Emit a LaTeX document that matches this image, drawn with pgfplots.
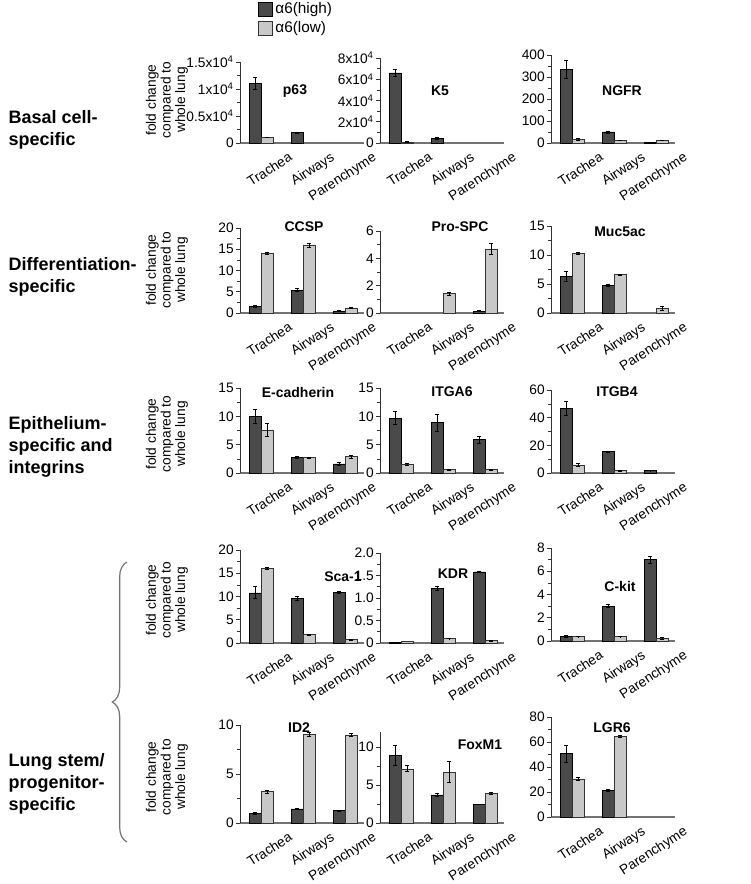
\documentclass[border=0pt]{standalone}
\usepackage{pgfplots}
\pgfplotsset{compat=1.18}
\usepackage{fontspec}
\setmainfont{Liberation Sans}
\setsansfont{Liberation Sans}
\usetikzlibrary{decorations.pathreplacing}
\definecolor{dk}{RGB}{74,74,74}
\definecolor{lt}{RGB}{200,200,200}
\newcommand\tlfont{\fontsize{10.3}{11}\selectfont}
\newcommand\ttfont{\fontsize{10.5}{12}\selectfont\bfseries}
\newcommand\ylfont{\fontsize{10.3}{11}\selectfont}
\newcommand\rowfont{\fontsize{13.5}{16.5}\selectfont\bfseries}
\pgfplotsset{
  panel/.style={
    scale only axis, anchor=south west,
    width=93pt,
    xmin=-0.5, xmax=2.45, ymin=0,
    axis x line=bottom, axis y line=left,
    x axis line style={-, draw=black!55, line width=0.9pt},
    y axis line style={-, draw=black!80, line width=0.6pt},
    xtick={0,1,2}, xticklabels={Trachea,Airways,Parenchyme},
    x tick label style={xshift=20pt, yshift=-3pt, rotate=33, anchor=north east, font=\tlfont, inner sep=0pt},
    major x tick style={draw=none},
    tick align=outside,
    y tick label style={font=\tlfont, inner sep=1.5pt},
    ybar=0pt, bar width=9pt,
    minor y tick num=1,
    y tick style={black!80, line width=0.5pt},
    major tick length=3pt, minor tick length=2pt,
    enlargelimits=false, clip=false,
    scaled y ticks=false,
    /pgf/number format/assume math mode=true,
  },
  hi/.style={fill=dk, draw=black, line width=0.4pt,
    error bars/y dir=both, error bars/y explicit,
    error bars/error bar style={black, line width=0.6pt},
    error bars/error mark options={rotate=90, mark size=1.2pt, black, line width=0.5pt}},
  lo/.style={fill=lt, draw=black!80, line width=0.4pt,
    error bars/y dir=both, error bars/y explicit,
    error bars/error bar style={black, line width=0.6pt},
    error bars/error mark options={rotate=90, mark size=1.2pt, black, line width=0.5pt}},
}
\begin{document}
\begin{tikzpicture}[x=0.75pt,y=-0.75pt]
\path[use as bounding box] (0,0) rectangle (750,884);
% anchors (px): column lefts 240, 380, 551
\coordinate (a11) at (240,143); \coordinate (a12) at (380,143); \coordinate (a13) at (551,143);
\coordinate (a21) at (240,313); \coordinate (a22) at (380,313); \coordinate (a23) at (551,313);
\coordinate (a31) at (240,473); \coordinate (a32) at (380,473); \coordinate (a33) at (551,473);
\coordinate (a41) at (240,643); \coordinate (a42) at (380,643); \coordinate (a43) at (551,641);
\coordinate (a51) at (240,823); \coordinate (a52) at (380,823); \coordinate (a53) at (551,817);

% ---------- Row 1 ----------
\begin{axis}[panel, at={(a11)}, height=60.75pt, ymax=15000,
  ytick={0,5000,10000,15000},
  yticklabels={0,0.5x10\textsuperscript{4},1x10\textsuperscript{4},1.5x10\textsuperscript{4}},
  legend style={at={(rel axis cs:0.145,1.77)}, anchor=north west, draw=none, fill=none,
    font=\fontsize{11.5}{12}\selectfont, inner sep=0pt, row sep=0.5pt, cells={anchor=west}},
  legend image code/.code={\draw[#1] (0pt,-5pt) rectangle (10.5pt,5pt);},
  legend cell align=left]
\addplot[hi] coordinates {(0,11000) +- (0,1100) (1,1950) +- (0,100)};
\addplot[lo] coordinates {(0,1050) +- (0,80)};
\legend{α6(high),α6(low)}
\end{axis}
\begin{axis}[panel, at={(a12)}, height=63.75pt, ymax=80000,
  ytick={0,20000,40000,60000,80000},
  yticklabels={0,2x10\textsuperscript{4},4x10\textsuperscript{4},6x10\textsuperscript{4},8x10\textsuperscript{4}}]
\addplot[hi] coordinates {(0,66000) +- (0,3500) (1,4500) +- (0,800)};
\addplot[lo] coordinates {(0,1000) +- (0,100)};
\end{axis}
\begin{axis}[panel, at={(a13)}, height=66pt, ymax=400,
  ytick={0,100,200,300,400}, yticklabels={0,100,200,300,400}]
\addplot[hi] coordinates {(0,335) +- (0,42) (1,50) +- (0,5) (2,4) +- (0,1)};
\addplot[lo] coordinates {(0,16) +- (0,3) (1,12) +- (0,1) (2,12) +- (0,1)};
\end{axis}

% ---------- Row 2 ----------
\begin{axis}[panel, at={(a21)}, height=63.75pt, ymax=20,
  ytick={0,5,10,15,20}, yticklabels={0,5,10,15,20}]
\addplot[hi] coordinates {(0,1.5) +- (0,0.2) (1,5.4) +- (0,0.3) (2,0.5) +- (0,0.05)};
\addplot[lo] coordinates {(0,14) +- (0,0.3) (1,16) +- (0,0.5) (2,1.2) +- (0,0.1)};
\end{axis}
\begin{axis}[panel, at={(a22)}, height=61.5pt, ymax=6,
  ytick={0,2,4,6}, yticklabels={0,2,4,6}]
\addplot[hi] coordinates {(2,0.15) +- (0,0.02)};
\addplot[lo] coordinates {(1,1.42) +- (0,0.12) (2,4.7) +- (0,0.4)};
\end{axis}
\begin{axis}[panel, at={(a23)}, height=65.25pt, ymax=15,
  ytick={0,5,10,15}, yticklabels={0,5,10,15}]
\addplot[hi] coordinates {(0,6.3) +- (0,0.8) (1,4.8) +- (0,0.15)};
\addplot[lo] coordinates {(0,10.3) +- (0,0.15) (1,6.6) +- (0,0.1) (2,0.8) +- (0,0.3)};
\end{axis}

% ---------- Row 3 ----------
\begin{axis}[panel, at={(a31)}, height=63.75pt, ymax=15,
  ytick={0,5,10,15}, yticklabels={0,5,10,15}]
\addplot[hi] coordinates {(0,10.0) +- (0,1.2) (1,2.8) +- (0,0.15) (2,1.6) +- (0,0.3)};
\addplot[lo] coordinates {(0,7.6) +- (0,1.1) (1,2.7) +- (0,0.05) (2,2.9) +- (0,0.3)};
\end{axis}
\begin{axis}[panel, at={(a32)}, height=63.75pt, ymax=15,
  ytick={0,5,10,15}, yticklabels={0,5,10,15}]
\addplot[hi] coordinates {(0,9.7) +- (0,1.1) (1,8.9) +- (0,1.5) (2,5.9) +- (0,0.6)};
\addplot[lo] coordinates {(0,1.5) +- (0,0.15) (1,0.6) +- (0,0.05) (2,0.6) +- (0,0.1)};
\end{axis}
\begin{axis}[panel, at={(a33)}, height=62.25pt, ymax=60,
  ytick={0,20,40,60}, yticklabels={0,20,40,60}]
\addplot[hi] coordinates {(0,46.5) +- (0,5) (1,15.5) +- (0,0.3) (2,1.8) +- (0,0.2)};
\addplot[lo] coordinates {(0,5.6) +- (0,1.1) (1,1.8) +- (0,0.3)};
\end{axis}

% ---------- Row 4 ----------
\begin{axis}[panel, at={(a41)}, height=69.75pt, ymax=20,
  ytick={0,5,10,15,20}, yticklabels={0,5,10,15,20}]
\addplot[hi] coordinates {(0,10.8) +- (0,1.3) (1,9.6) +- (0,0.4) (2,10.9) +- (0,0.3)};
\addplot[lo] coordinates {(0,16.1) +- (0,0.2) (1,1.8) +- (0,0.05) (2,0.7) +- (0,0.05)};
\end{axis}
\begin{axis}[panel, at={(a42)}, height=67.5pt, ymax=2,
  ytick={0,0.5,1,1.5,2}, yticklabels={0,0.5,1.0,1.5,2.0}]
\addplot[hi] coordinates {(0,0.01) (1,1.22) +- (0,0.05) (2,1.58) +- (0,0.01)};
\addplot[lo] coordinates {(0,0.03) (1,0.1) +- (0,0.005) (2,0.05) +- (0,0.005)};
\end{axis}
\begin{axis}[panel, at={(a43)}, height=69.75pt, ymax=8,
  ytick={0,2,4,6,8}, yticklabels={0,2,4,6,8}]
\addplot[hi] coordinates {(0,0.38) +- (0,0.08) (1,3.0) +- (0,0.12) (2,7.0) +- (0,0.3)};
\addplot[lo] coordinates {(0,0.38) +- (0,0.02) (1,0.38) +- (0,0.02) (2,0.25) +- (0,0.08)};
\end{axis}

% ---------- Row 5 ----------
\begin{axis}[panel, at={(a51)}, height=73.5pt, ymax=10,
  ytick={0,5,10}, yticklabels={0,5,10}]
\addplot[hi] coordinates {(0,0.95) +- (0,0.1) (1,1.45) +- (0,0.05) (2,1.25) +- (0,0.05)};
\addplot[lo] coordinates {(0,3.2) +- (0,0.15) (1,9.05) +- (0,0.25) (2,9.0) +- (0,0.2)};
\end{axis}
\begin{axis}[panel, at={(a52)}, height=68.25pt, ymax=12,
  ytick={0,5,10}, yticklabels={0,5,10}]
\addplot[hi] coordinates {(0,8.9) +- (0,1.3) (1,3.7) +- (0,0.15) (2,2.45) +- (0,0.05)};
\addplot[lo] coordinates {(0,7.15) +- (0,0.4) (1,6.7) +- (0,1.4) (2,3.95) +- (0,0.15)};
\end{axis}
\begin{axis}[panel, at={(a53)}, height=75pt, ymax=80,
  ytick={0,20,40,60,80}, yticklabels={0,20,40,60,80}]
\addplot[hi] coordinates {(0,50.7) +- (0,7) (1,21.3) +- (0,0.8)};
\addplot[lo] coordinates {(0,30.5) +- (0,1.5) (1,64.5) +- (0,1)};
\end{axis}

% ---------- titles ----------
\node[font=\ttfont] at (295,91) {p63};
\node[font=\ttfont] at (440,91) {K5};
\node[font=\ttfont] at (622,91) {NGFR};
\node[font=\ttfont] at (304,227) {CCSP};
\node[font=\ttfont] at (460,227) {Pro-SPC};
\node[font=\ttfont] at (620,232) {Muc5ac};
\node[font=\ttfont] at (298,392) {E-cadherin};
\node[font=\ttfont] at (452,392) {ITGA6};
\node[font=\ttfont] at (617,392) {ITGB4};
\node[font=\ttfont] at (343,577) {Sca-1};
\node[font=\ttfont] at (453,574) {KDR};
\node[font=\ttfont] at (620,586) {C-kit};
\node[font=\ttfont] at (299,728) {ID2};
\node[font=\ttfont] at (480,745) {FoxM1};
\node[font=\ttfont] at (612,728) {LGR6};

% ---------- y labels ----------
\foreach \yy in {100,270,434,600,777}
  \node[rotate=90, align=center, font=\ylfont] at (167,\yy) {fold change\\compared to\\whole lung};

% ---------- row labels ----------
\node[anchor=west, align=left, font=\rowfont] at (4,130) {Basal cell-\\specific};
\node[anchor=west, align=left, font=\rowfont] at (4,277) {Differentiation-\\specific};
\node[anchor=west, align=left, font=\rowfont] at (4,447) {Epithelium-\\specific and\\integrins};
\node[anchor=west, align=left, font=\rowfont] at (4,784) {Lung stem/\\progenitor-\\specific};

% ---------- brace ----------
\draw[black!55, line width=0.9pt, decorate, decoration={brace, amplitude=11pt}] (127,842) -- (127,562);
\end{tikzpicture}
\end{document}
